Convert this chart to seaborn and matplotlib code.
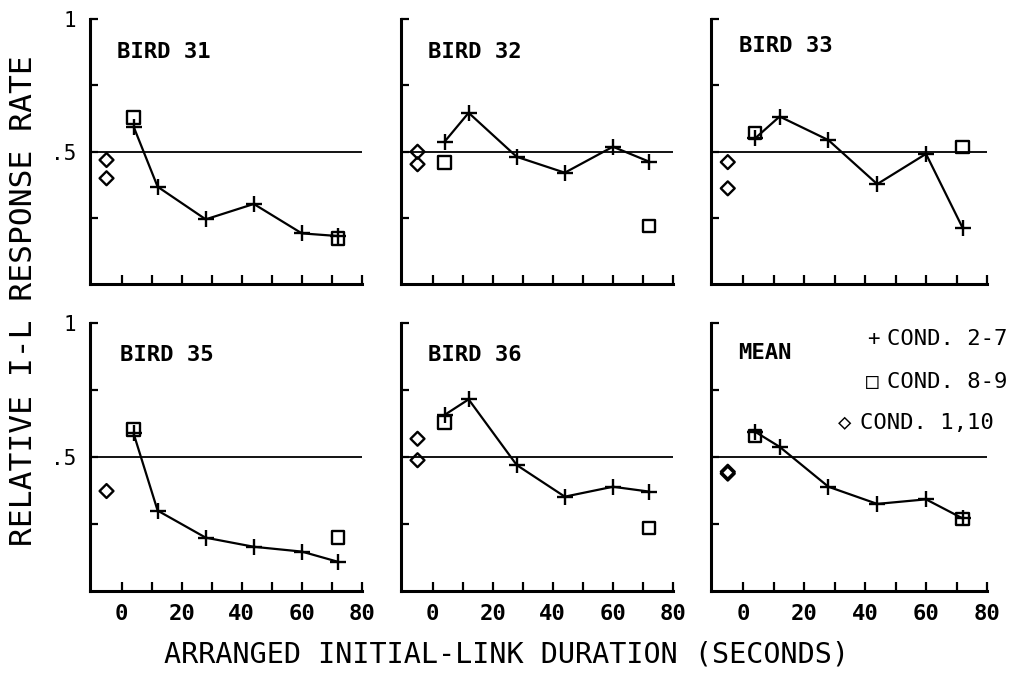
import matplotlib
matplotlib.use("Agg")
import matplotlib.pyplot as plt
import numpy as np
import pandas as pd
import seaborn as sns

# ---------------- data ----------------
panel_names = ["BIRD 31", "BIRD 32", "BIRD 33", "BIRD 35", "BIRD 36", "MEAN"]
durations = [4, 12, 28, 44, 60, 72]          # COND. 2-7 (+)
square_x = [4, 72]                           # COND. 8-9 (squares)
diamond_x = -5                               # COND. 1,10 (diamonds, baseline)

bird31_plus = [0.594, 0.367, 0.244, 0.302, 0.191, 0.181]
bird32_plus = [0.537, 0.646, 0.480, 0.420, 0.518, 0.462]
bird33_plus = [0.550, 0.632, 0.543, 0.377, 0.491, 0.212]
bird35_plus = [0.588, 0.300, 0.199, 0.165, 0.147, 0.109]
bird36_plus = [0.657, 0.715, 0.470, 0.352, 0.389, 0.371]
mean_plus = [0.594, 0.538, 0.389, 0.325, 0.342, 0.271]

bird31_sq = [0.629, 0.172]
bird32_sq = [0.458, 0.219]
bird33_sq = [0.569, 0.518]
bird35_sq = [0.603, 0.200]
bird36_sq = [0.628, 0.234]
mean_sq = [0.578, 0.269]

bird31_dia = [0.468, 0.399]
bird32_dia = [0.499, 0.452]
bird33_dia = [0.460, 0.361]
bird35_dia = [0.373]
bird36_dia = [0.568, 0.488]
mean_dia = [0.445, 0.438]

x_tick_values = [0, 10, 20, 30, 40, 50, 60, 70, 80]
x_tick_labels = ["0", "", "20", "", "40", "", "60", "", "80"]
y_tick_values = [0.25, 0.5, 0.75, 1.0]
y_tick_labels = ["", ".5", "", "1"]

plus_sets = [bird31_plus, bird32_plus, bird33_plus, bird35_plus, bird36_plus, mean_plus]
sq_sets = [bird31_sq, bird32_sq, bird33_sq, bird35_sq, bird36_sq, mean_sq]
dia_sets = [bird31_dia, bird32_dia, bird33_dia, bird35_dia, bird36_dia, mean_dia]

# ---------------- style ----------------
sns.set_style("ticks")
MONO = ["DejaVu Sans Mono", "DejaVu Sans"]
plt.rcParams["font.family"] = MONO
plt.rcParams["text.color"] = "black"
plt.rcParams["axes.labelcolor"] = "black"
plt.rcParams["xtick.color"] = "black"
plt.rcParams["ytick.color"] = "black"

W, H = 1017, 675
fig = plt.figure(figsize=(W / 100, H / 100), dpi=100)
fig.patch.set_facecolor("white")

col_px = [(90, 362), (401, 673), (711, 987)]
row_px = [(19, 284), (323, 591)]
title_pos = [(0.10, 0.875), (0.10, 0.875), (0.10, 0.90),
             (0.11, 0.88), (0.10, 0.88), (0.10, 0.888)]

for i, name in enumerate(panel_names):
    r, c = divmod(i, 3)
    x0, x1 = col_px[c]
    y0, y1 = row_px[r]
    ax = fig.add_axes([x0 / W, 1 - y1 / H, (x1 - x0) / W, (y1 - y0) / H])
    ax.set_facecolor("white")

    df_plus = pd.DataFrame({"x": durations, "y": plus_sets[i]})
    df_sq = pd.DataFrame({"x": square_x, "y": sq_sets[i]})
    df_dia = pd.DataFrame({"x": [diamond_x] * len(dia_sets[i]), "y": dia_sets[i]})

    ax.axhline(0.5, color="black", lw=1.3, zorder=1)
    sns.lineplot(data=df_plus, x="x", y="y", ax=ax, color="black", lw=1.6,
                 marker="+", markersize=12, markeredgewidth=1.7,
                 markeredgecolor="black", estimator=None, sort=False, zorder=3)
    sns.scatterplot(data=df_sq, x="x", y="y", ax=ax, marker="s", s=80,
                    facecolor="none", edgecolor="black", linewidth=1.7, zorder=4)
    sns.scatterplot(data=df_dia, x="x", y="y", ax=ax, marker="D", s=50,
                    facecolor="none", edgecolor="black", linewidth=1.7, zorder=4)

    ax.set_xlim(-10.5, 80)
    ax.set_ylim(0, 1)
    for s in ["top", "right"]:
        ax.spines[s].set_visible(False)
    for s in ["left", "bottom"]:
        ax.spines[s].set_linewidth(2.2)
        ax.spines[s].set_color("black")

    ax.set_xticks(x_tick_values)
    if r == 1:
        ax.set_xticklabels(x_tick_labels, fontsize=16, fontweight="bold")
    else:
        ax.set_xticklabels([""] * len(x_tick_values))
    ax.set_yticks(y_tick_values)
    if c == 0:
        ax.set_yticklabels(y_tick_labels, fontsize=15)
    else:
        ax.set_yticklabels([""] * len(y_tick_values))
    ax.tick_params(axis="x", direction="in", length=6.5, width=1.6, pad=9,
                   colors="black")
    ax.tick_params(axis="y", direction="in", length=6, width=1.6, pad=10,
                   colors="black")
    ax.set_xlabel("")
    ax.set_ylabel("")

    tx, ty = title_pos[i]
    ax.text(tx, ty, name, transform=ax.transAxes, fontsize=16,
            fontweight="bold", va="center", ha="left", color="black")

    if name == "MEAN":
        lx = lambda px: (px - x0) / (x1 - x0)
        ly = lambda py: (y1 - py) / (y1 - y0)
        ax.text(lx(873), ly(339), "+", transform=ax.transAxes, fontsize=15,
                ha="center", va="center", clip_on=False)
        ax.text(lx(887), ly(339), "COND. 2-7", transform=ax.transAxes,
                fontsize=16, ha="left", va="center", clip_on=False)
        ax.text(lx(872), ly(382), "\u25a1", transform=ax.transAxes,
                fontsize=15, ha="center", va="center", clip_on=False,
                family=MONO)
        ax.text(lx(887), ly(382), "COND. 8-9", transform=ax.transAxes,
                fontsize=16, ha="left", va="center", clip_on=False)
        ax.text(lx(845), ly(423), "\u25c7", transform=ax.transAxes,
                fontsize=16, ha="center", va="center", clip_on=False,
                family=MONO)
        ax.text(lx(860), ly(423), "COND. 1,10", transform=ax.transAxes,
                fontsize=16, ha="left", va="center", clip_on=False)

fig.text(24 / W, 1 - 301 / H, "RELATIVE I-L RESPONSE RATE", rotation=90,
         ha="center", va="center", fontsize=22.5, color="black")
fig.text(507 / W, 1 - 655 / H, "ARRANGED INITIAL-LINK DURATION (SECONDS)",
         ha="center", va="center", fontsize=20.5, color="black")

fig.savefig("out.png", dpi=100, facecolor="white")
